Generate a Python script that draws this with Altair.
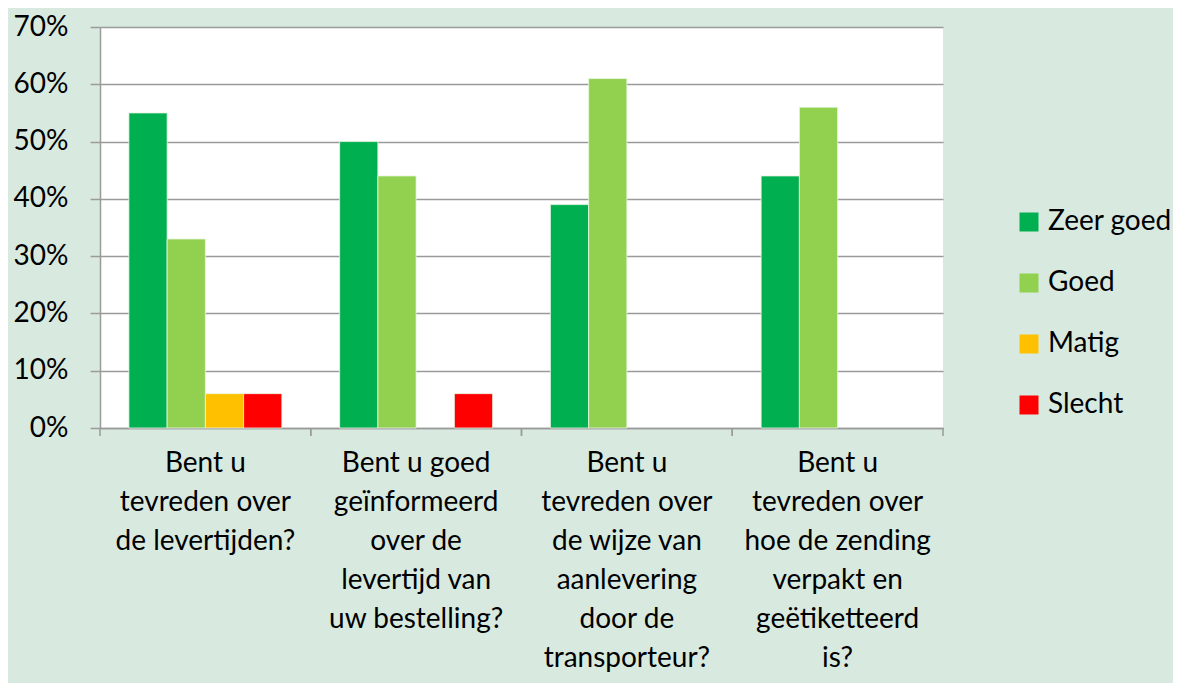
import altair as alt
import pandas as pd

questions = [
    "Bent u|tevreden over|de levertijden?",
    "Bent u goed|geïnformeerd|over de|levertijd van|uw bestelling?",
    "Bent u|tevreden over|de wijze van|aanlevering|door de|transporteur?",
    "Bent u|tevreden over|hoe de zending|verpakt en|geëtiketteerd|is?",
]
ratings = ["Zeer goed", "Goed", "Matig", "Slecht"]
zeer_goed = [55, 50, 39, 44]
goed = [33, 44, 61, 56]
matig = [6, 0, 0, 0]
slecht = [6, 6, 0, 0]
colors = ["#00b050", "#92d050", "#ffc000", "#ff0000"]
y_ticks = [0, 0.1, 0.2, 0.3, 0.4, 0.5, 0.6, 0.7]

rows = []
for series, vals in zip(ratings, [zeer_goed, goed, matig, slecht]):
    for q, v in zip(questions, vals):
        rows.append({"vraag": q, "oordeel": series, "waarde": v / 100})
df = pd.DataFrame(rows)
df_q = pd.DataFrame({"vraag": questions})

W, H = 843, 401
FONT = "Lato"
FS = 28
GRAY = "#9a9a9a"

x_scale = alt.Scale(domain=questions, paddingInner=0, paddingOuter=0)
x_axis = alt.Axis(
    labelExpr="split(datum.label, '|')",
    labelAngle=0,
    labelFont=FONT,
    labelFontSize=FS,
    labelLineHeight=39,
    labelColor="#000000",
    labelPadding=21,
    labelLimit=0,
    ticks=False,
    domainColor=GRAY,
    domainWidth=1.5,
    grid=False,
)

bars = (
    alt.Chart(df)
    .transform_filter("datum.waarde > 0")
    .mark_bar(stroke="#eaf7e6", strokeWidth=0.8)
    .encode(
        x=alt.X("vraag:N", scale=x_scale, sort=questions, title=None, axis=x_axis),
        xOffset=alt.XOffset(
            "oordeel:N",
            sort=ratings,
            scale=alt.Scale(domain=ratings, paddingInner=0, paddingOuter=0.755),
        ),
        y=alt.Y(
            "waarde:Q",
            scale=alt.Scale(domain=[0, 0.7], nice=False),
            title=None,
            axis=alt.Axis(
                format=".0%",
                values=y_ticks,
                labelFont=FONT,
                labelFontSize=FS,
                labelColor="#000000",
                labelPadding=22,
                tickSize=10,
                tickColor=GRAY,
                tickWidth=1.5,
                domainColor=GRAY,
                domainWidth=1.5,
                gridColor=GRAY,
                gridWidth=1.5,
            ),
        ),
        color=alt.Color(
            "oordeel:N",
            sort=ratings,
            scale=alt.Scale(domain=ratings, range=colors),
            legend=alt.Legend(
                title=None,
                orient="none",
                legendX=915,
                legendY=181,
                symbolType="square",
                symbolSize=361,
                symbolStrokeWidth=0,
                labelFont=FONT,
                labelFontSize=FS,
                labelColor="#000000",
                labelOffset=5,
                rowPadding=33,
                padding=0,
            ),
        ),
    )
)

ticks_start = (
    alt.Chart(df_q)
    .mark_rule(color=GRAY, strokeWidth=1.5)
    .encode(
        x=alt.X("vraag:N", scale=x_scale, sort=questions, bandPosition=0, title=None, axis=x_axis),
        y=alt.value(H),
        y2=alt.value(H + 8),
    )
)
ticks_end = (
    alt.Chart(df_q)
    .mark_rule(color=GRAY, strokeWidth=1.5)
    .encode(
        x=alt.X("vraag:N", scale=x_scale, sort=questions, bandPosition=1, title=None, axis=x_axis),
        y=alt.value(H),
        y2=alt.value(H + 8),
    )
)

chart = (
    alt.layer(bars, ticks_start, ticks_end)
    .properties(
        width=W,
        height=H,
        background="#d8eae0",
        padding={"left": 92, "top": 19, "right": 230, "bottom": 255},
        autosize=alt.AutoSizeParams(type="none"),
    )
    .configure_view(fill="white", strokeWidth=0)
)

chart.save("out.html", embed_options={"renderer": "svg", "actions": False})
